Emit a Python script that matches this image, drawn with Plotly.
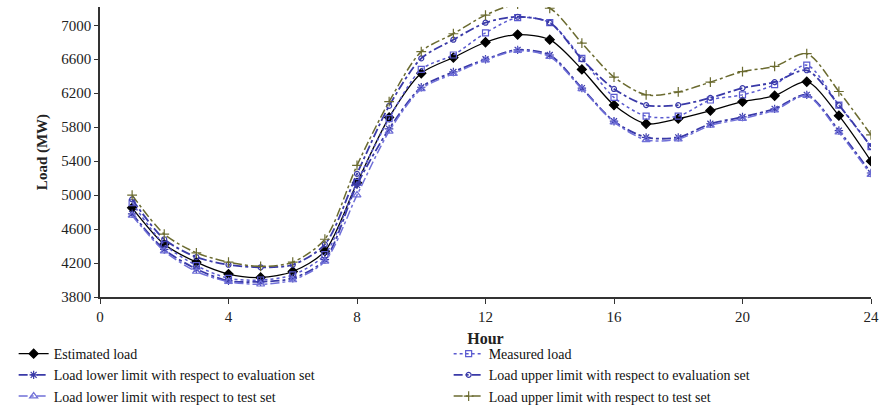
import plotly.graph_objects as go

hours = list(range(1, 25))
estimated = [4850, 4420, 4210, 4070, 4030, 4100, 4340, 5145, 5915, 6435, 6620, 6800,
             6890, 6830, 6480, 6060, 5840, 5900, 5995, 6100, 6170, 6335, 5935, 5400]
measured = [4910, 4420, 4170, 4020, 4000, 4060, 4300, 5150, 5900, 6480, 6650, 6910,
            7090, 7030, 6610, 6150, 5930, 5930, 6120, 6180, 6300, 6530, 6060, 5570]
lower_eval = [4780, 4360, 4130, 3990, 3980, 4020, 4240, 5120, 5780, 6270, 6450, 6600,
              6710, 6650, 6260, 5870, 5680, 5680, 5840, 5920, 6015, 6180, 5760, 5260]
upper_eval = [4950, 4480, 4270, 4180, 4150, 4180, 4420, 5250, 6050, 6610, 6830, 7030,
              7100, 7030, 6600, 6250, 6060, 6060, 6145, 6260, 6330, 6470, 6060, 5570]
lower_test = [4760, 4340, 4100, 3980, 3950, 4000, 4220, 5000, 5750, 6250, 6430, 6590,
              6700, 6630, 6250, 5860, 5650, 5660, 5820, 5900, 6000, 6170, 5740, 5240]
upper_test = [5000, 4540, 4320, 4210, 4160, 4210, 4480, 5350, 6100, 6690, 6900, 7120,
              7250, 7200, 6790, 6390, 6180, 6215, 6330, 6455, 6515, 6665, 6220, 5710]

series = [
    ("Estimated load", estimated, "black", "solid", "diamond", 7, 1.3),
    ("Measured load", measured, "#5a5ad0", "dot", "square-open", 6, 1.5),
    ("Load lower limit with respect to evaluation set", lower_eval, "#3a3aa8", "dashdot", "asterisk-open", 7, 1.8),
    ("Load upper limit with respect to evaluation set", upper_eval, "#3a3aa8", "dashdot", "circle-open", 5, 1.8),
    ("Load lower limit with respect to test set", lower_test, "#7070d8", "dashdot", "triangle-up-open", 7, 1.5),
    ("Load upper limit with respect to test set", upper_test, "#6b6b30", "dashdot", "cross-thin-open", 7, 1.5),
]

fig = go.Figure()
for name, vals, color, dash, sym, size, w in series:
    fig.add_trace(go.Scatter(
        x=hours, y=vals, name=name, mode="lines+markers",
        line=dict(color=color, dash=dash, width=w, shape="spline", smoothing=0.8),
        marker=dict(symbol=sym, size=size, color=color, line=dict(color=color, width=1.2)),
    ))

font_serif = "Liberation Serif, Times New Roman, serif"
fig.update_layout(
    width=896, height=417,
    margin=dict(l=100, r=25, t=7, b=119),
    plot_bgcolor="white", paper_bgcolor="white",
    font=dict(family=font_serif, size=15, color="#222"),
    showlegend=True,
    legend=dict(
        orientation="h", x=-0.112, xanchor="left", y=-0.392, yanchor="bottom",
        entrywidth=390, entrywidthmode="pixels",
        font=dict(family=font_serif, size=14, color="#111"),
        itemwidth=30,
        bgcolor="rgba(0,0,0,0)",
    ),
    xaxis=dict(
        range=[0, 24], tickvals=[0, 4, 8, 12, 16, 20, 24],
        showline=True, linecolor="#333", linewidth=1.5,
        ticks="outside", ticklen=5, tickcolor="#333",
        showgrid=False, zeroline=False,
        tickfont=dict(family=font_serif, size=15),
        title=dict(text="<b>Hour</b>", font=dict(family=font_serif, size=16), standoff=9),
    ),
    yaxis=dict(
        range=[3800, 7215], tickvals=[3800, 4200, 4600, 5000, 5400, 5800, 6200, 6600, 7000],
        showline=True, linecolor="#333", linewidth=1.5,
        ticks="outside", ticklen=4, tickcolor="#333",
        showgrid=False, zeroline=False,
        tickfont=dict(family=font_serif, size=15),
        title=dict(text="<b>Load (MW)</b>", font=dict(family=font_serif, size=15), standoff=10),
    ),
)

fig.write_html("out.html")
